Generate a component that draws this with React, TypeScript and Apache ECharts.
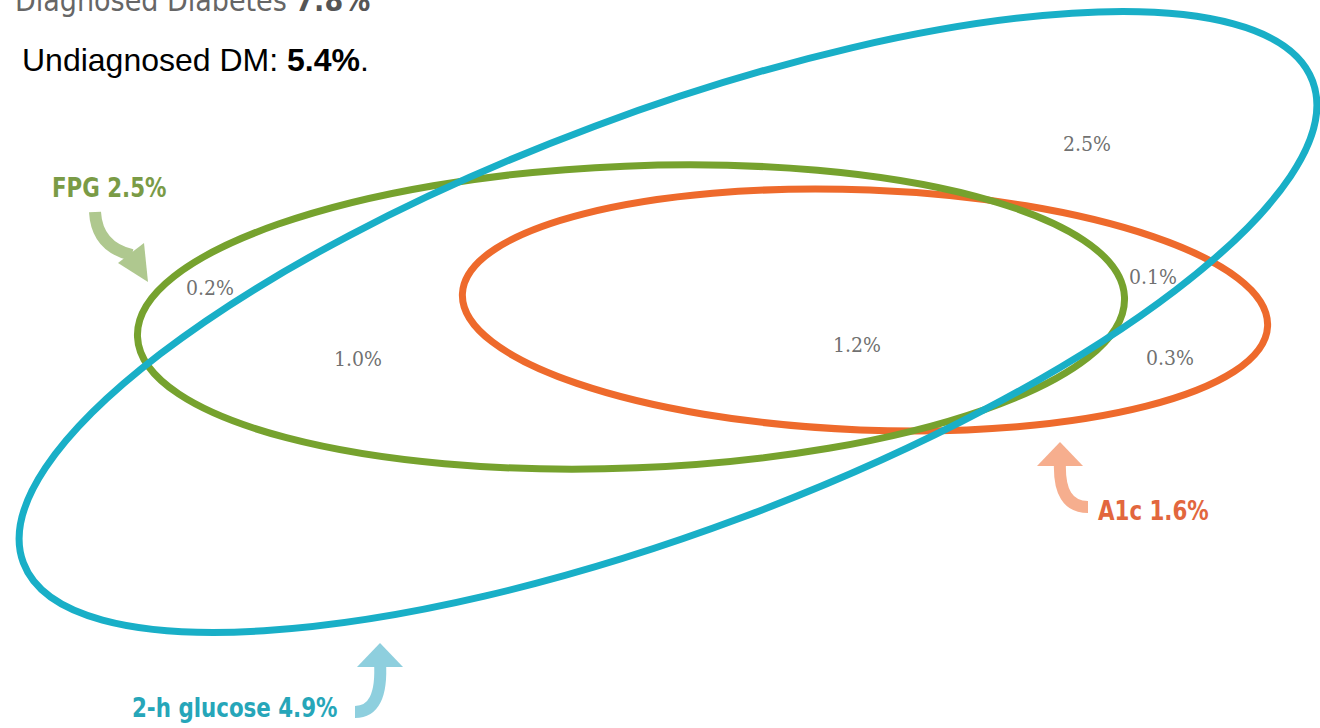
import React, { useEffect, useRef } from "react";
import * as echarts from "echarts";

// Ellipse sets: [centerX, centerY, semiMajor, semiMinor, tiltDeg (counter-clockwise)]
const setNames = ["A1c", "FPG", "2-h glucose"];
const setEllipses: number[][] = [
  [865, 310, 403, 120, -2.3],
  [631, 317, 494, 151, 2.3],
  [668, 322, 688, 209, 20.5],
];
const setColors = ["#EE6A2C", "#76A22E", "#19AFC7"];

// Region percentages and where they sit
const regionValues = ["2.5%", "0.2%", "1.0%", "1.2%", "0.1%", "0.3%"];
const regionX = [1087, 210, 358, 857, 1153, 1170];
const regionY = [144, 288, 359, 345, 277, 358];

const setLabels = ["A1c 1.6%", "FPG 2.5%", "2-h glucose 4.9%"];

export default function App() {
  const ref = useRef<HTMLDivElement>(null);
  useEffect(() => {
    document.body.style.margin = "0";
    const chart = echarts.init(ref.current!, null, { renderer: "svg" });
    const labelFont = "'DejaVu Sans Condensed', 'DejaVu Sans', sans-serif";
    const groupText = (x: number, y: number, text: string, color: string) => ({
      type: "text",
      x,
      y,
      scaleX: 0.88,
      style: { text, fontFamily: labelFont, fontWeight: "bold", fontSize: 27, fill: color, verticalAlign: "middle" },
    });
    chart.setOption({
      animation: false,
      backgroundColor: "#ffffff",
      grid: { left: 0, right: 0, top: 0, bottom: 0 },
      xAxis: { type: "value", min: 0, max: 1320, show: false },
      yAxis: { type: "value", min: 0, max: 728, inverse: true, show: false },
      series: [
        {
          type: "custom",
          name: "sets",
          clip: false,
          data: setEllipses.map((e, i) => ({ name: setNames[i], value: e })),
          renderItem: (params: any, api: any) => {
            const c = api.coord([api.value(0), api.value(1)]);
            const s = api.size([api.value(2), api.value(3)]);
            return {
              type: "ellipse",
              x: c[0],
              y: c[1],
              rotation: (api.value(4) * Math.PI) / 180,
              shape: { cx: 0, cy: 0, rx: Math.abs(s[0]), ry: Math.abs(s[1]) },
              style: { fill: "none", stroke: setColors[params.dataIndex], lineWidth: 7 },
            };
          },
        },
        {
          type: "scatter",
          symbolSize: 0,
          data: regionValues.map((v, i) => ({ value: [regionX[i], regionY[i]], name: v })),
          label: {
            show: true,
            position: "inside",
            formatter: (p: any) => p.name,
            fontFamily: "'DejaVu Serif Condensed', 'DejaVu Serif', serif",
            fontSize: 21,
            color: "#4a4a4a",
          },
          silent: true,
        },
      ],
      graphic: [
        {
          type: "text",
          x: 15,
          y: 15,
          style: {
            text: "Diagnosed Diabetes {b|7.8%}",
            fontFamily: labelFont,
            fontSize: 30,
            fill: "#666666",
            verticalAlign: "bottom",
            rich: { b: { fontFamily: labelFont, fontSize: 30, fontWeight: "bold", fill: "#555555" } },
          },
        },
        {
          type: "text",
          x: 22,
          y: 60,
          style: {
            text: "Undiagnosed DM: {b|5.4%}.",
            fontFamily: "'Liberation Sans', Arial, sans-serif",
            fontSize: 32,
            fill: "#000000",
            verticalAlign: "middle",
            rich: {
              b: { fontFamily: "'Liberation Sans', Arial, sans-serif", fontSize: 32, fontWeight: "bold", fill: "#000000" },
            },
          },
        },
        // FPG label + arrow
        groupText(52, 187, setLabels[1], "#7A9B46"),
        {
          type: "bezierCurve",
          shape: { x1: 95, y1: 212, cpx1: 97, cpy1: 247, x2: 132, y2: 255 },
          style: { stroke: "#AFC88F", lineWidth: 12, fill: "none" },
        },
        {
          type: "polygon",
          shape: { points: [[148, 282], [118, 263], [144, 243]] },
          style: { fill: "#AFC88F" },
        },
        // A1c label + arrow
        groupText(1098, 510, setLabels[0], "#E2673E"),
        {
          type: "bezierCurve",
          shape: { x1: 1060, y1: 462, cpx1: 1058, cpy1: 507, x2: 1088, y2: 507 },
          style: { stroke: "#F6AE8E", lineWidth: 12, fill: "none" },
        },
        {
          type: "polygon",
          shape: { points: [[1060, 442], [1037, 466], [1083, 466]] },
          style: { fill: "#F6AE8E" },
        },
        // 2-h glucose label + arrow
        groupText(132, 707, setLabels[2], "#26A6B9"),
        {
          type: "bezierCurve",
          shape: { x1: 380, y1: 662, cpx1: 383, cpy1: 712, x2: 355, y2: 712 },
          style: { stroke: "#8ECFDE", lineWidth: 12, fill: "none" },
        },
        {
          type: "polygon",
          shape: { points: [[380, 643], [357, 667], [403, 667]] },
          style: { fill: "#8ECFDE" },
        },
      ],
    });
    return () => chart.dispose();
  }, []);
  return <div ref={ref} style={{ width: 1320, height: 728 }} />;
}
